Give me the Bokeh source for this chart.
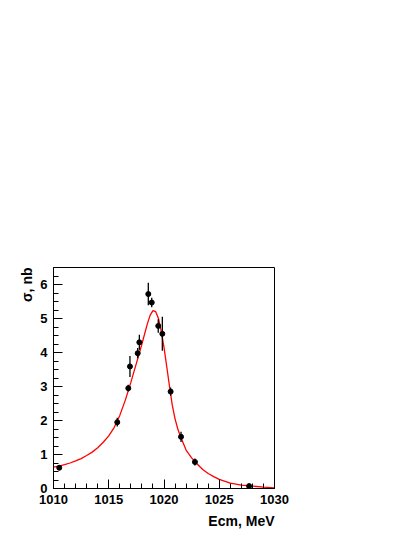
from bokeh.plotting import figure
from bokeh.models import FixedTicker, Title, Range1d
from bokeh.embed import file_html
from bokeh.resources import INLINE

# measured points
energy = [1010.52, 1015.77, 1016.77, 1016.92, 1017.62, 1017.77, 1018.58,
          1018.89, 1019.48, 1019.85, 1020.60, 1021.54, 1022.80, 1027.70]
sigma = [0.61, 1.95, 2.95, 3.59, 3.98, 4.30, 5.72,
         5.47, 4.78, 4.55, 2.85, 1.52, 0.78, 0.07]
sigma_err = [0.07, 0.13, 0.10, 0.31, 0.15, 0.22, 0.33,
             0.14, 0.20, 0.50, 0.12, 0.15, 0.10, 0.03]

# fit curve
fit_e = [1010.0, 1010.5, 1011.0, 1011.5, 1012.0, 1012.5, 1013.0, 1013.5,
         1014.0, 1014.5, 1015.0, 1015.5, 1016.0,
         1016.5, 1017.0, 1017.5, 1018.0, 1018.5, 1018.75, 1019.0, 1019.25,
         1019.5, 1019.75, 1020.0, 1020.25, 1020.5, 1020.75, 1021.0, 1021.25,
         1021.5, 1022.0, 1022.5, 1023.0, 1023.5, 1024.0, 1024.5, 1025.0,
         1026.0, 1027.0, 1028.0, 1029.0, 1030.0]
fit_s = [0.63, 0.66, 0.70, 0.75, 0.81, 0.88, 0.97, 1.07,
         1.20, 1.36, 1.55, 1.80, 2.15,
         2.60, 3.12, 3.68, 4.25, 4.85, 5.10, 5.23, 5.20,
         5.00, 4.63, 4.15, 3.58, 3.00, 2.45, 2.05, 1.75,
         1.52, 1.13, 0.90, 0.72, 0.56, 0.44, 0.35, 0.27,
         0.16, 0.10, 0.07, 0.04, 0.02]

x_major = [1010, 1015, 1020, 1025, 1030]
x_minor = list(range(1010, 1031))
y_major = [0, 1, 2, 3, 4, 5, 6]
y_minor = [i * 0.25 for i in range(0, 27)]

p = figure(frame_width=221, frame_height=221,
           min_border_left=53, min_border_top=267,
           min_border_right=124, min_border_bottom=45,
           x_range=Range1d(1010, 1030), y_range=Range1d(0, 6.5),
           output_backend="svg", toolbar_location=None)

p.background_fill_color = "white"
p.border_fill_color = "white"
p.outline_line_color = "black"
p.outline_line_width = 1
p.xgrid.visible = False
p.ygrid.visible = False

p.xaxis.ticker = FixedTicker(ticks=x_major, minor_ticks=x_minor)
p.yaxis.ticker = FixedTicker(ticks=y_major, minor_ticks=y_minor)

for ax in (p.xaxis[0], p.yaxis[0]):
    ax.major_tick_in = 9
    ax.major_tick_out = 0
    ax.minor_tick_in = 5
    ax.minor_tick_out = 0
    ax.major_tick_line_color = "black"
    ax.minor_tick_line_color = "black"
    ax.axis_line_color = "black"
    ax.major_label_text_font = "Liberation Sans"
    ax.major_label_text_font_style = "bold"
    ax.major_label_text_font_size = "13px"
    ax.major_label_text_color = "black"
    ax.major_label_standoff = 6

# fit curve
p.line(fit_e, fit_s, line_color="#ff0000", line_width=1.3)

# error bars and points
p.segment(x0=energy, y0=[s - e for s, e in zip(sigma, sigma_err)],
          x1=energy, y1=[s + e for s, e in zip(sigma, sigma_err)],
          line_color="black", line_width=1.3)
p.scatter(energy, sigma, size=5, marker="circle",
          fill_color="black", line_color="black")

xt = Title(text="Ecm, MeV", align="right", text_font="Liberation Sans",
           text_font_style="bold", text_font_size="14px", text_color="black",
           standoff=8)
p.add_layout(xt, "below")
yt = Title(text="σ, nb", align="right", text_font="Liberation Sans",
           text_font_style="bold", text_font_size="14px", text_color="black",
           vertical_align="top", standoff=2)
p.add_layout(yt, "left")

open("out.html", "w").write(file_html(p, INLINE))
